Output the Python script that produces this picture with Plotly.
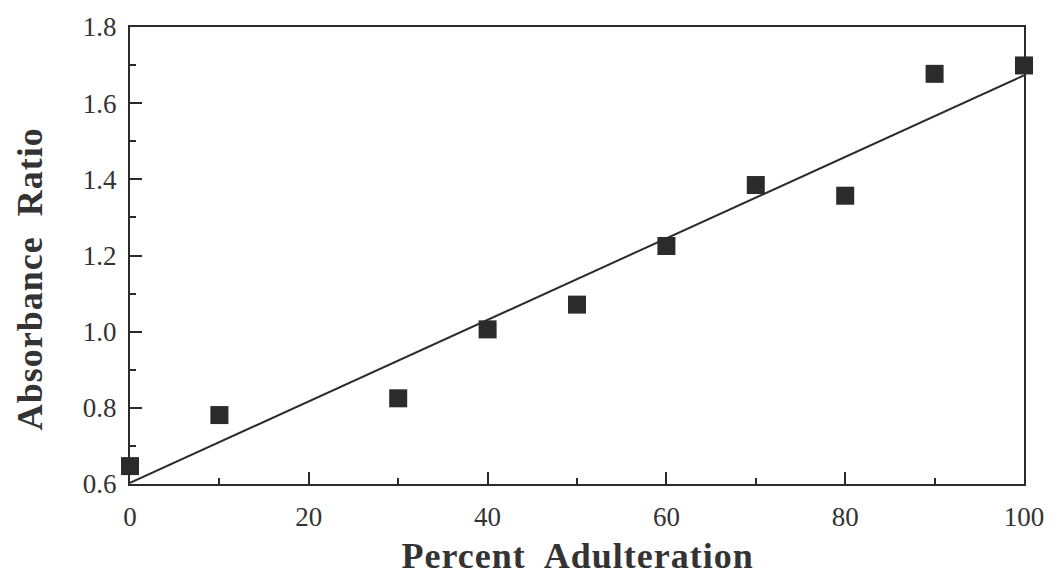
import plotly.graph_objects as go

percent = [0, 10, 30, 40, 50, 60, 70, 80, 90, 100]
ratio = [0.647, 0.781, 0.825, 1.006, 1.071, 1.225, 1.385, 1.357, 1.677, 1.699]
fit_x = [0, 100]
fit_y = [0.603, 1.673]
x_ticks = [0, 20, 40, 60, 80, 100]
y_ticks = [0.6, 0.8, 1.0, 1.2, 1.4, 1.6, 1.8]
y_tick_labels = ["0.6", "0.8", "1.0", "1.2", "1.4", "1.6", "1.8"]

ink = "#2b2b2b"
fig = go.Figure()
fig.add_trace(go.Scatter(x=fit_x, y=fit_y, mode="lines",
                         line=dict(color=ink, width=2), showlegend=False))
fig.add_trace(go.Scatter(x=percent, y=ratio, mode="markers",
                         marker=dict(symbol="square", size=18, color=ink,
                                     line=dict(width=0)),
                         showlegend=False, cliponaxis=False))

axis_common = dict(showgrid=False, zeroline=False, showline=True, linecolor=ink,
                   linewidth=2, mirror=True, ticks="inside", ticklen=12,
                   tickwidth=2, tickcolor=ink,
                   tickfont=dict(family="Liberation Serif", size=27, color="#333"))

fig.update_xaxes(range=[0, 100], tickvals=x_ticks, ticklabelstandoff=8,
                 minor=dict(ticks="inside", ticklen=6, tickwidth=2,
                            tickcolor=ink, dtick=10, tick0=0),
                 **axis_common)
fig.update_yaxes(range=[0.6, 1.8], tickvals=y_ticks, ticktext=y_tick_labels,
                 ticklabelstandoff=6,
                 minor=dict(ticks="inside", ticklen=6, tickwidth=2,
                            tickcolor=ink, dtick=0.1, tick0=0.6),
                 **axis_common)

fig.add_annotation(text="Percent  Adulteration", xref="paper", yref="paper",
                   x=0.5, y=-0.158, xanchor="center", yanchor="middle",
                   showarrow=False,
                   font=dict(family="Liberation Serif", size=36, color="#333",
                             weight="bold"))
fig.add_annotation(text="Absorbance  Ratio", xref="paper", yref="paper",
                   x=-0.112, y=0.449, xanchor="center", yanchor="middle",
                   textangle=-90, showarrow=False,
                   font=dict(family="Liberation Serif", size=36, color="#333",
                             weight="bold"))

fig.update_layout(width=1056, height=577, plot_bgcolor="white",
                  paper_bgcolor="white",
                  margin=dict(l=130, r=28, t=21, b=93))

post = """
document.body.style.margin = '0';
document.body.style.overflow = 'hidden';
document.querySelectorAll('.annotation-text').forEach(function(t){
  t.style.letterSpacing = '1px';
});
"""
fig.write_html("out.html", post_script=post,
               config={"displayModeBar": False})
